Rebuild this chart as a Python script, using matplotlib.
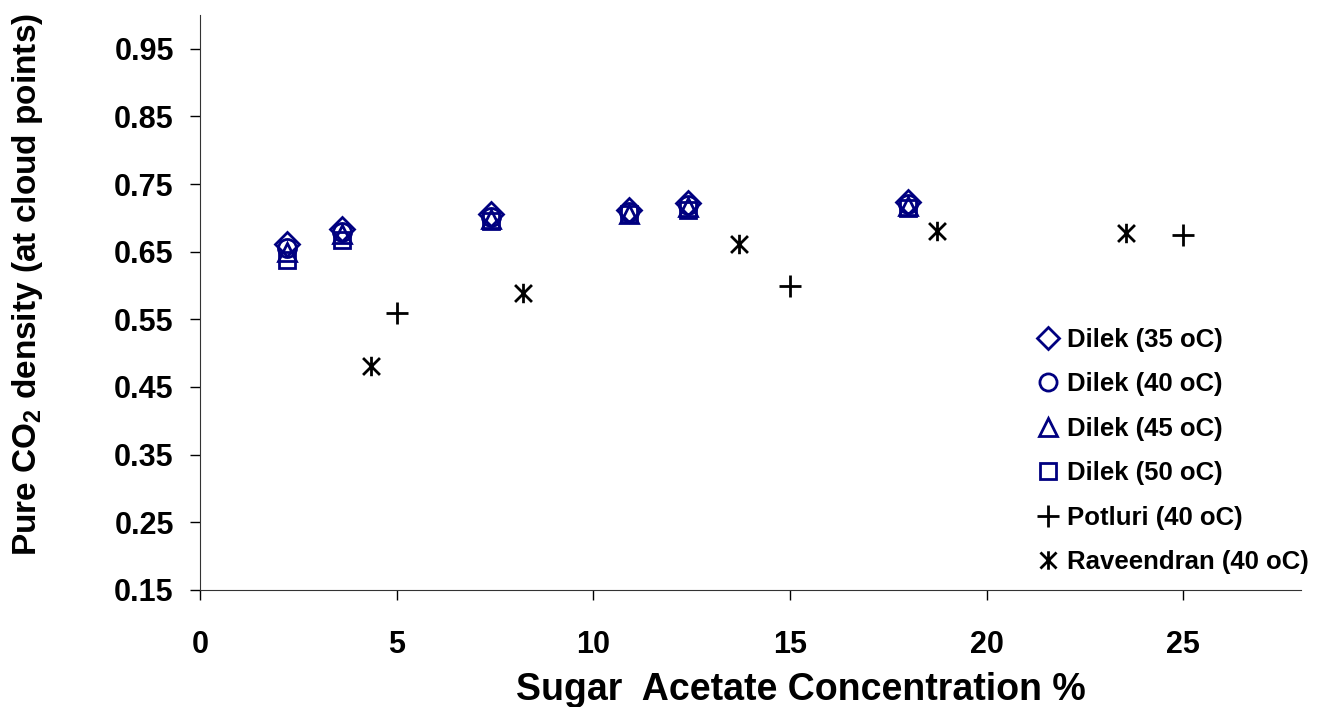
import numpy as np
import matplotlib
matplotlib.use('Agg')
import matplotlib.pyplot as plt
from matplotlib.path import Path

plt.rcParams['font.family'] = ['Liberation Sans', 'DejaVu Sans']
plt.rcParams['font.weight'] = 'bold'
plt.rcParams['mathtext.fontset'] = 'custom'
plt.rcParams['mathtext.rm'] = 'Liberation Sans:bold'
plt.rcParams['mathtext.bf'] = 'Liberation Sans:bold'

# ----- data
dilek_x = [2.2, 3.6, 7.4, 10.9, 12.4, 18.0]
dilek_35 = [0.662, 0.683, 0.705, 0.712, 0.722, 0.724]
dilek_40 = [0.656, 0.679, 0.701, 0.709, 0.719, 0.721]
dilek_45 = [0.650, 0.676, 0.698, 0.706, 0.716, 0.718]
dilek_50 = [0.637, 0.667, 0.696, 0.706, 0.711, 0.715]

potluri_x = [5.0, 15.0, 25.0]
potluri_y = [0.559, 0.599, 0.674]

raveendran_x = [4.35, 8.2, 13.7, 18.75, 23.55]
raveendran_y = [0.481, 0.589, 0.662, 0.680, 0.677]

xticks = [0, 5, 10, 15, 20, 25]
yticks = [0.15, 0.25, 0.35, 0.45, 0.55, 0.65, 0.75, 0.85, 0.95]

# ----- asterisk marker: X plus a vertical bar
star = Path([(-1, -1), (1, 1), (-1, 1), (1, -1), (0, -1.15), (0, 1.15)],
            [Path.MOVETO, Path.LINETO, Path.MOVETO, Path.LINETO,
             Path.MOVETO, Path.LINETO])

navy = '#000080'
fig = plt.figure(figsize=(13.17, 7.07), dpi=100)
ax = fig.add_axes([0.152, 0.1655, 0.836, 0.8135])

ax.plot(dilek_x, dilek_35, ls='none', marker='D', ms=12, mfc='none',
        mec=navy, mew=2, label='Dilek (35 oC)')
ax.plot(dilek_x, dilek_40, ls='none', marker='o', ms=13, mfc='none',
        mec=navy, mew=2, label='Dilek (40 oC)')
ax.plot(dilek_x, dilek_45, ls='none', marker='^', ms=13, mfc='none',
        mec=navy, mew=2, label='Dilek (45 oC)')
ax.plot(dilek_x, dilek_50, ls='none', marker='s', ms=12, mfc='none',
        mec=navy, mew=2, label='Dilek (50 oC)')
ax.plot(potluri_x, potluri_y, ls='none', marker='+', ms=16, mec='k',
        mew=2, label='Potluri (40 oC)')
ax.plot(raveendran_x, raveendran_y, ls='none', marker=star, ms=14,
        mec='k', mfc='none', mew=2, label='Raveendran (40 oC)')

ax.set_xlim(0, 28.0)
ax.set_ylim(0.15, 1.0)
ax.set_xticks(xticks)
ax.set_yticks(yticks)
ax.set_yticklabels(['%.2f' % v for v in yticks])
ax.tick_params(direction='out', length=7, width=1, labelsize=22, pad=12)
ax.tick_params(axis='x', pad=22)
for s in ['top', 'right']:
    ax.spines[s].set_visible(False)
for s in ['left', 'bottom']:
    ax.spines[s].set_color('#333333')

fig.text(801 / 1317, 1 - 690 / 707, 'Sugar  Acetate Concentration %',
         fontsize=27, fontweight='bold', ha='center', va='center')
fig.text(28 / 1317, 1 - 284 / 707,
         'Pure CO$_\\mathrm{2}$ density (at cloud points)', fontsize=24,
         fontweight='bold', ha='center', va='center', rotation=90)

ax.legend(loc='center left', bbox_to_anchor=(1037 / 1317, 1 - 451 / 707),
          bbox_transform=fig.transFigure, frameon=False, fontsize=18.5,
          handlelength=0.85, handletextpad=0.3, labelspacing=0.8,
          borderpad=0, borderaxespad=0, markerscale=0.95)

fig.savefig('out.png', dpi=100)
